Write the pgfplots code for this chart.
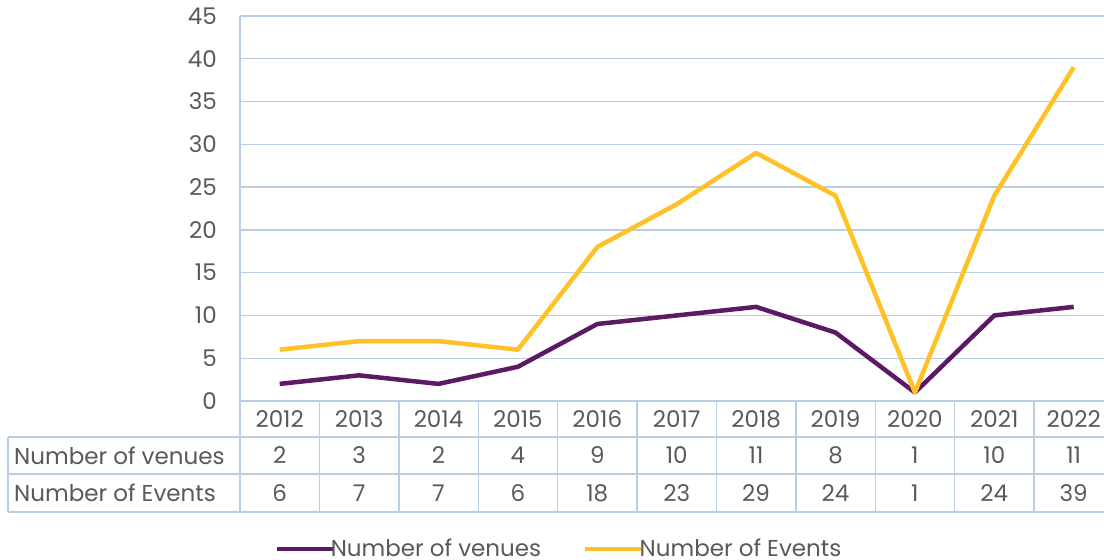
\documentclass[border=0pt]{standalone}
\usepackage{pgfplots}
\pgfplotsset{compat=1.18}
\usepackage{fontspec}
\setmainfont{Poppins}
\definecolor{txt}{HTML}{595959}
\definecolor{gridc}{HTML}{B9CDE5}
\definecolor{venue}{HTML}{5B1A63}
\definecolor{event}{HTML}{FFC125}
\newcommand{\fs}{\fontsize{23}{27}\selectfont}
\begin{document}
\fs
\begin{tikzpicture}[x=1pt,y=1pt]
\useasboundingbox (0,0) rectangle (1104,560);
\clip (0,0) rectangle (1104,560);
\begin{axis}[
  at={(240pt,159pt)}, anchor=south west,
  scale only axis, width=873.4pt, height=385pt,
  xmin=-0.5, xmax=10.5, ymin=0, ymax=45,
  axis line style={draw=none},
  ymajorgrids, grid style={gridc, line width=1.4pt},
  major tick length=0pt,
  ytick={0,5,...,45},
  xtick={0,...,10},
  xticklabels={2012,2013,2014,2015,2016,2017,2018,2019,2020,2021,2022},
  /pgf/number format/assume math mode=true,
  every tick label/.append style={font=\fs, text=txt},
  yticklabel style={anchor=east, inner sep=0pt, xshift=-23pt},
  xticklabel style={anchor=center, inner sep=0pt, yshift=-18pt},
  legend columns=2,
  legend style={at={(0.365,-0.385)}, anchor=center, draw=none, fill=none,
    font=\fs, text=txt,
    /tikz/every even column/.append style={column sep=40pt}},
  legend image code/.code={\draw[#1, line width=4.5pt] (0pt,0pt) -- (56pt,0pt);},
]
\addplot[venue, line width=4.5pt, line join=round] coordinates {
(0,2) (1,3) (2,2) (3,4) (4,9) (5,10) (6,11) (7,8) (8,1) (9,10) (10,11)};
\addlegendentry{\hspace{-6pt}Number of venues}
\addplot[event, line width=4.5pt, line join=round] coordinates {
(0,6) (1,7) (2,7) (3,6) (4,18) (5,23) (6,29) (7,24) (8,1) (9,24) (10,39)};
\addlegendentry{\hspace{-6pt}Number of Events}
\end{axis}
\begin{scope}[gridc, line width=1.4pt]
\draw (240,544) -- (240,48);
\draw (240,159) -- (1104,159);
\draw (8,123) -- (1104,123);
\draw (8,86) -- (1104,86);
\draw (8,48) -- (1104,48);
\draw (8,123) -- (8,48);
\foreach \k in {1,...,11} { \draw ({240+79.4*\k},159) -- ({240+79.4*\k},48); }
\end{scope}
\node[anchor=west, text=txt, inner sep=0pt] at (14,104.5) {Number of venues};
\node[anchor=west, text=txt, inner sep=0pt] at (14,67) {Number of Events};
\foreach \v [count=\i from 0] in {2,3,2,4,9,10,11,8,1,10,11} {
  \node[text=txt, inner sep=0pt] at ({240+79.4*(\i+0.5)},104.5) {\v};
}
\foreach \v [count=\i from 0] in {6,7,7,6,18,23,29,24,1,24,39} {
  \node[text=txt, inner sep=0pt] at ({240+79.4*(\i+0.5)},67) {\v};
}
\end{tikzpicture}
\end{document}
